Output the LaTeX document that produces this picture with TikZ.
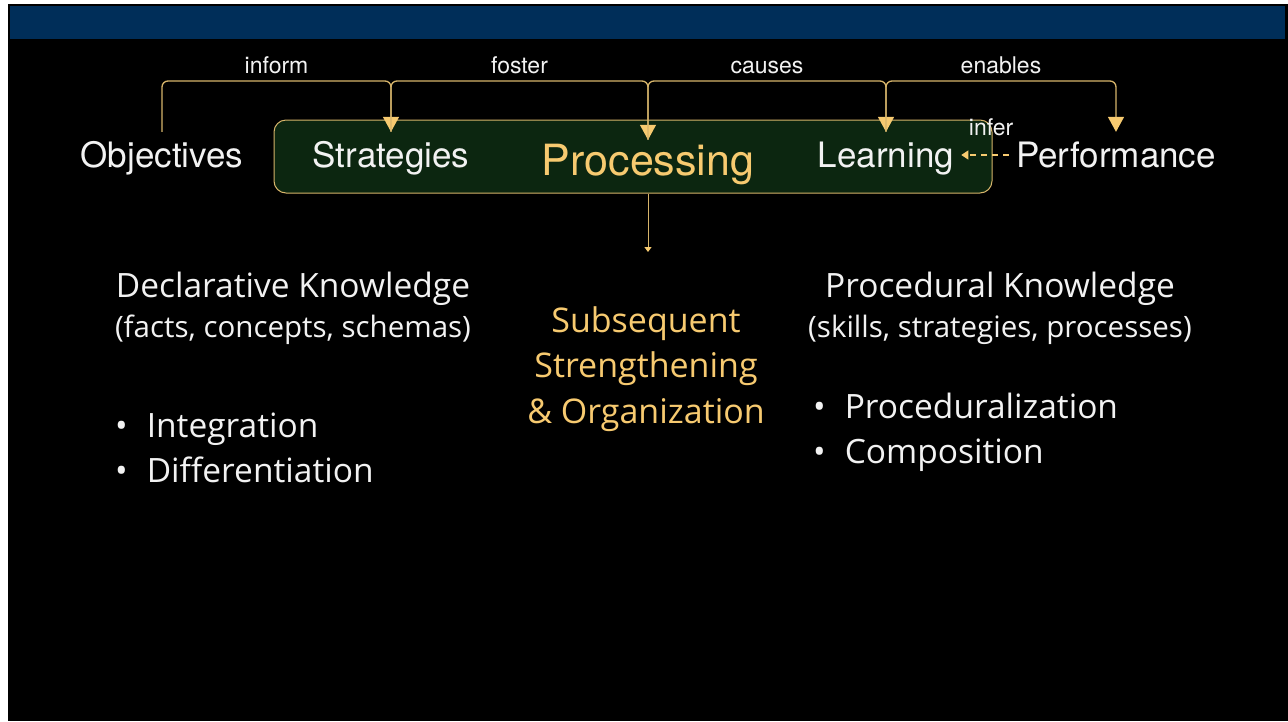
\documentclass[tikz,border=0pt]{standalone}
\usepackage{fontspec}
\setmainfont{TeX Gyre Heros}
\newfontfamily\lowfont{Open Sans}
\usetikzlibrary{arrows.meta,calc}
\definecolor{hdrblue}{RGB}{0,46,89}
\definecolor{gold}{RGB}{247,202,112}
\definecolor{goldline}{RGB}{214,180,106}
\definecolor{boxgreen}{RGB}{12,38,16}
\definecolor{txt}{RGB}{242,242,242}
\tikzset{
  toptxt/.style={text=txt, font=\fontsize{35}{40}\selectfont, anchor=base, text height=25pt, text depth=8pt, inner ysep=10pt, inner xsep=7pt},
  lbl/.style={text=txt, font=\fontsize{23}{27}\selectfont, anchor=base, inner sep=0pt},
  conn/.style={draw=goldline, line width=1.3pt, rounded corners=6pt, -{Triangle[width=16pt,length=15pt,fill=gold,color=gold]}},
  lowtxt/.style={text=txt, font=\lowfont\fontsize{33.5}{38}\selectfont, anchor=base, inner sep=0pt},
  subtxt/.style={text=txt, font=\lowfont\fontsize{29.5}{34}\selectfont, anchor=base, inner sep=0pt},
  goldtxt/.style={text=gold, font=\lowfont\fontsize{34}{38}\selectfont, anchor=base, inner sep=0pt},
  bul/.style={text=txt, font=\lowfont\fontsize{33.5}{40}\selectfont, anchor=base west, inner sep=0pt},
  procbox/.style={draw=goldline, line width=1pt, fill=boxgreen, rounded corners=12pt, minimum width=718pt, minimum height=73pt, inner sep=0pt}
}
\begin{document}
\begin{tikzpicture}[x=1pt,y=-1pt]
\useasboundingbox (0,0) rectangle (1288,721);
\fill[white] (0,0) rectangle (1288,721);
\fill[black] (8,4) rectangle (1288,721);
\fill[hdrblue] (10,6) rectangle (1285,39);
\coordinate (topline) at (0,81);

\node[procbox] (box) at (633,156.5) {};

\node[toptxt] (obj) at (162,167) {Objectives};
\node[toptxt] (strat) at (391,167) {Strategies};
\node[toptxt, text=gold, font=\fontsize{43}{48}\selectfont, text height=31pt, inner ysep=4pt] (proc) at (648,175) {Processing};
\node[toptxt] (learn) at (886,167) {Learning};
\node[toptxt] (perf) at (1116,167) {Performance};

\draw[conn] (obj.north) -- (obj.north |- topline) -- node[lbl, yshift=8pt]{inform} (strat.north |- topline) -- (strat.north);
\draw[conn] (strat.north) -- (strat.north |- topline) -- node[lbl, yshift=8pt]{foster} (proc.north |- topline) -- (proc.north);
\draw[conn] (proc.north) -- (proc.north |- topline) -- node[lbl, yshift=8pt]{causes} (learn.north |- topline) -- (learn.north);
\draw[conn] (learn.north) -- (learn.north |- topline) -- node[lbl, yshift=8pt]{enables} (perf.north |- topline) -- (perf.north);

\draw[draw=gold, line width=1.4pt, dash pattern=on 6pt off 5pt, -{Triangle[width=9pt,length=7pt,fill=gold,color=gold]}] ([yshift=3.5pt]perf.west) -- ([yshift=3.5pt]learn.east) node[lbl, pos=0.5, yshift=20pt, xshift=6pt] (inf) {infer};

\coordinate (down) at (648,252);
\draw[draw=goldline, line width=1pt, -{Triangle[width=7pt,length=5pt,fill=gold,color=gold]}] (box.south -| proc) -- (down);

\node[lowtxt] (decl) at (293,297) {Declarative Knowledge};
\node[subtxt] (declsub) at (293,337) {(facts, concepts, schemas)};
\node[bul] (b1) at (115,437) {•\hspace{19pt}Integration};
\node[bul] (b2) at (115,482) {•\hspace{19pt}Differentiation};

\node[goldtxt] (s1) at (646,332) {Subsequent};
\node[goldtxt] (s2) at (646,377) {Strengthening};
\node[goldtxt] (s3) at (646,423) {\& Organization};

\node[lowtxt] (procd) at (1000,297) {Procedural Knowledge};
\node[subtxt] (procsub) at (1000,337) {(skills, strategies, processes)};
\node[bul] (b3) at (813,418) {•\hspace{19pt}Proceduralization};
\node[bul] (b4) at (813,463) {•\hspace{19pt}Composition};
\end{tikzpicture}
\end{document}
